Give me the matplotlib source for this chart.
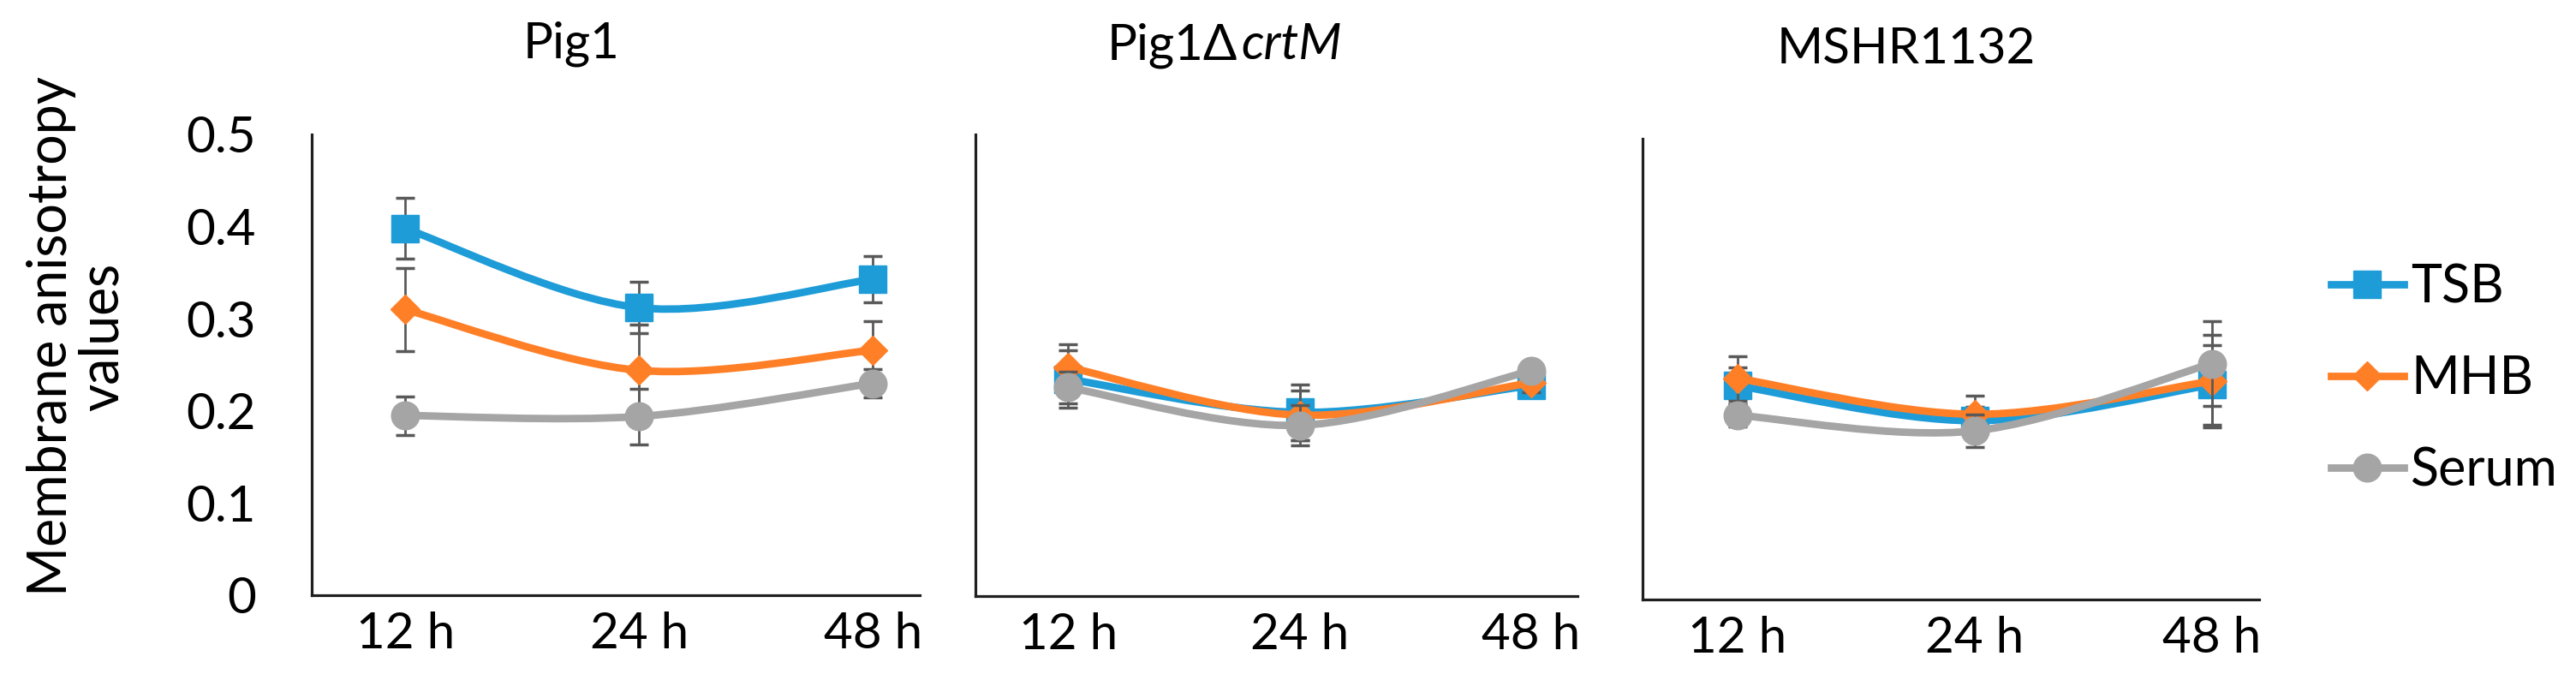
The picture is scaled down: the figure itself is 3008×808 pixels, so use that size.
import numpy as np
import matplotlib
matplotlib.use('Agg')
import matplotlib.pyplot as plt
from matplotlib.path import Path
from matplotlib.patches import PathPatch
from matplotlib.lines import Line2D

plt.rcParams['font.family'] = ['Lato', 'DejaVu Sans']

hours = ['12 h', '24 h', '48 h']
series_names = ['TSB', 'MHB', 'Serum']
yticks = [0, 0.1, 0.2, 0.3, 0.4, 0.5]
ytick_labels = ['0', '0.1', '0.2', '0.3', '0.4', '0.5']

# Pig1
pig1_tsb = [0.398, 0.312, 0.343]
pig1_tsb_err = [0.033, 0.028, 0.025]
pig1_mhb = [0.310, 0.244, 0.266]
pig1_mhb_err = [0.045, 0.050, 0.031]
pig1_serum = [0.195, 0.194, 0.230]
pig1_serum_err = [0.021, 0.030, 0.015]

# Pig1 delta crtM
crtm_tsb = [0.235, 0.199, 0.228]
crtm_tsb_err = [0.031, 0.030, 0.012]
crtm_mhb = [0.248, 0.196, 0.231]
crtm_mhb_err = [0.025, 0.027, 0.010]
crtm_serum = [0.226, 0.185, 0.244]
crtm_serum_err = [0.017, 0.022, 0.008]

# MSHR1132
mshr_tsb = [0.232, 0.194, 0.233]
mshr_tsb_err = [0.020, 0.015, 0.043]
mshr_mhb = [0.240, 0.201, 0.237]
mshr_mhb_err = [0.024, 0.020, 0.050]
mshr_serum = [0.200, 0.183, 0.256]
mshr_serum_err = [0.012, 0.018, 0.046]

colors = ['#1E9CD8', '#FF7F27', '#A5A5A5']
markers = ['s', 'D', 'o']
msizes = [23.5, 17.5, 23.5]
err_color = '#595959'
line_w = 6.3

W, H = 3008, 808
fig = plt.figure(figsize=(W / 100, H / 100), dpi=100)


def px_axes(left, top, right, bottom):
    return fig.add_axes([left / W, 1 - bottom / H, (right - left) / W, (bottom - top) / H])


def smooth_path(x, y):
    # Excel-style smoothed line: Catmull-Rom segments as cubic Bezier curves
    pts = np.column_stack([x, y]).astype(float)
    ext = np.vstack([pts[0], pts, pts[-1]])
    verts = [pts[0]]
    codes = [Path.MOVETO]
    for i in range(len(pts) - 1):
        p0, p1, p2, p3 = ext[i], ext[i + 1], ext[i + 2], ext[i + 3]
        verts += [p1 + (p2 - p0) / 6, p2 - (p3 - p1) / 6, p2]
        codes += [Path.CURVE4] * 3
    return Path(verts, codes)


panels = [
    ((364, 157, 1074, 695), [pig1_tsb, pig1_mhb, pig1_serum],
     [pig1_tsb_err, pig1_mhb_err, pig1_serum_err]),
    ((1139, 157, 1842, 696), [crtm_tsb, crtm_mhb, crtm_serum],
     [crtm_tsb_err, crtm_mhb_err, crtm_serum_err]),
    ((1918, 162, 2638, 700), [mshr_tsb, mshr_mhb, mshr_serum],
     [mshr_tsb_err, mshr_mhb_err, mshr_serum_err]),
]

x = np.arange(len(hours))
for k, (box, vals, errs) in enumerate(panels):
    ax = px_axes(*box)
    ax.set_xlim(-0.4, 2.2)
    ax.set_ylim(0, 0.5)
    for s in ['top', 'right']:
        ax.spines[s].set_visible(False)
    for s in ['left', 'bottom']:
        ax.spines[s].set_color('#1f1f1f')
        ax.spines[s].set_linewidth(2.3)
    ax.set_xticks(x, hours)
    ax.set_yticks(yticks, ytick_labels)
    ax.tick_params(axis='x', length=0, pad=14, labelsize=42)
    ax.tick_params(axis='y', length=0, pad=47, labelsize=42, labelleft=(k == 0))
    for i in range(3):
        z = 2 + i
        ax.add_patch(PathPatch(smooth_path(x, vals[i]), facecolor='none',
                               edgecolor=colors[i], lw=line_w, capstyle='round', zorder=z))
        ax.errorbar(x, vals[i], yerr=errs[i], fmt='none', ecolor=err_color,
                    elinewidth=2, capsize=8, capthick=2.5, zorder=z + 0.3)
        ax.plot(x, vals[i], ls='none', marker=markers[i], ms=msizes[i],
                color=colors[i], mec=colors[i], zorder=z + 0.6)

# titles
fig.text(667 / W, 1 - 68 / H, 'Pig1', ha='center', va='baseline', fontsize=42)
fig.text(1445 / W, 1 - 69 / H, 'Pig1\u0394', ha='right', va='baseline', fontsize=42)
fig.text(1449 / W, 1 - 69 / H, 'crtM', ha='left', va='baseline', fontsize=42, style='italic')
fig.text(2226 / W, 1 - 74 / H, 'MSHR1132', ha='center', va='baseline', fontsize=42)

fig.text(90 / W, 1 - 393 / H, 'Membrane anisotropy\nvalues', rotation=90, ha='center',
         va='center', multialignment='center', linespacing=1.05, fontsize=45)

handles = [Line2D([], [], color=colors[i], lw=line_w, marker=markers[i], ms=msizes[i],
                  mec=colors[i]) for i in range(3)]
fig.legend(handles, series_names, loc='center left', bbox_to_anchor=(2722 / W, 1 - 443 / H),
           frameon=False, fontsize=44, handlelength=1.39, handletextpad=0.13,
           labelspacing=0.82, borderpad=0, borderaxespad=0)

fig.savefig('out.png', dpi=100)
